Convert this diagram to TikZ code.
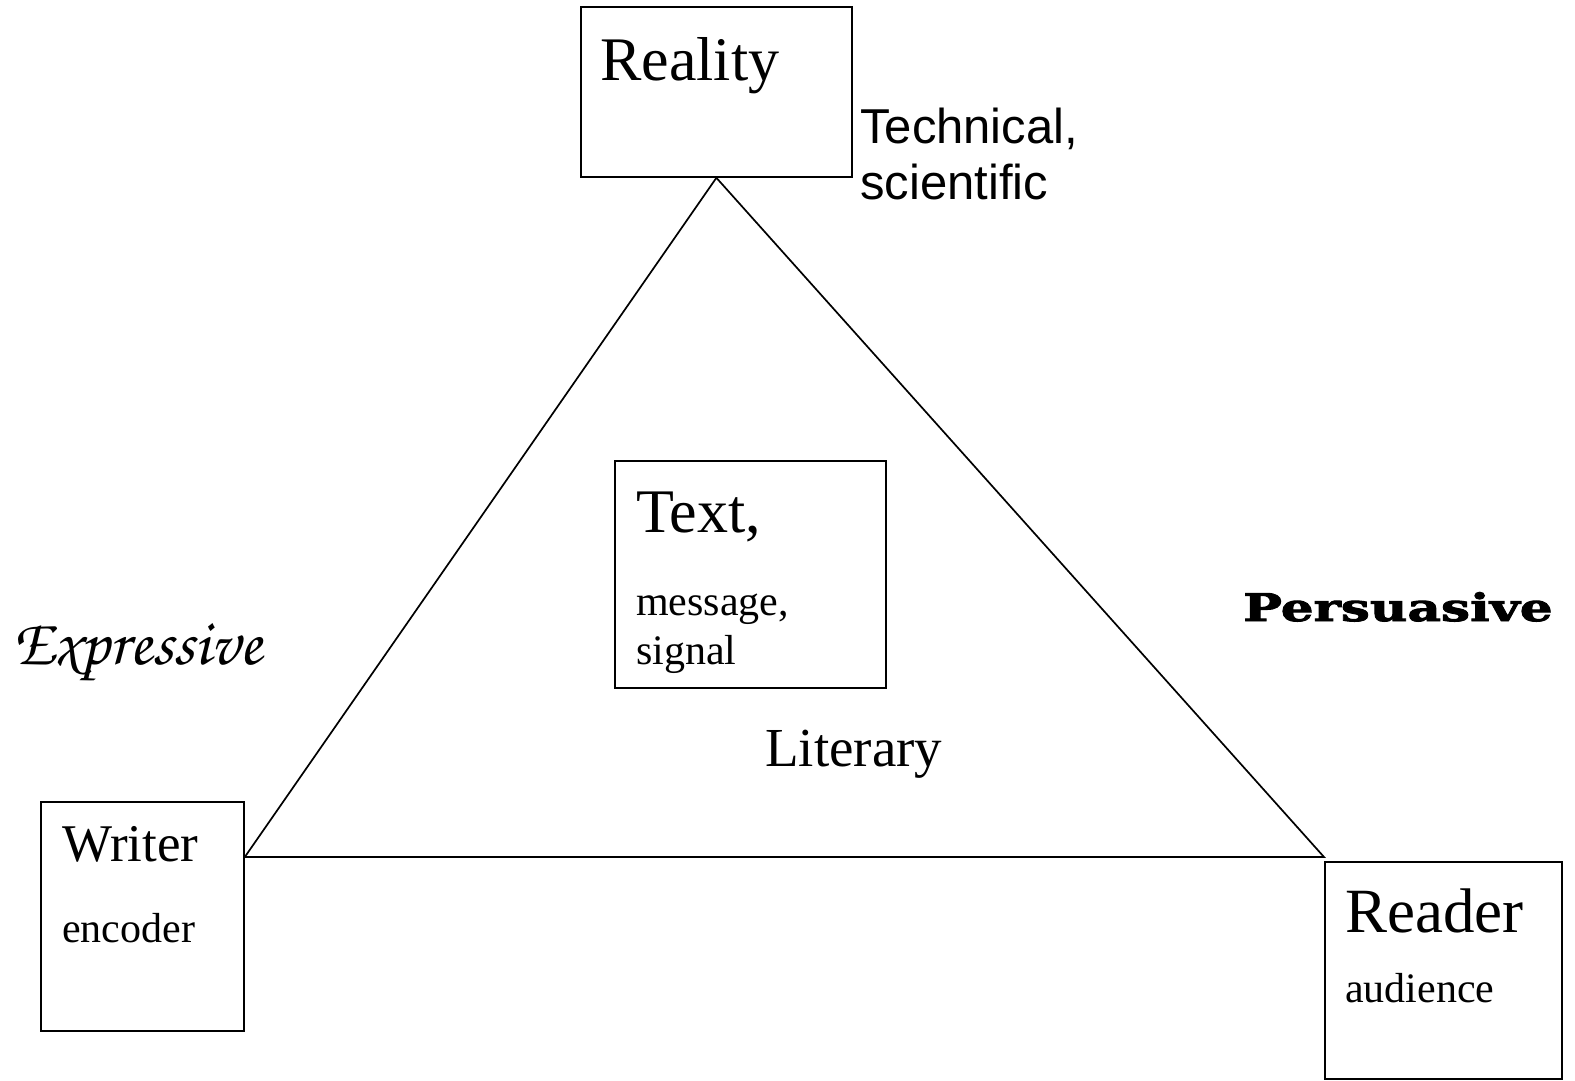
\documentclass[tikz,border=0pt]{standalone}
\usepackage{fontspec}
\usepackage{tikz}
\usetikzlibrary{positioning}
\setmainfont{Liberation Serif}
\newfontfamily\sansfam{Liberation Sans}
\newfontfamily\slabfam[FakeStretch=1.36, BoldFeatures={FakeBold=2.5}]{DejaVu Serif}
\newfontfamily\chorusfam{texgyrechorus-mediumitalic.otf}

\begin{document}
\begin{tikzpicture}[
			x=1pt, y=-1pt,
			box/.style={draw, line width=1.8pt, inner sep=0pt, anchor=north west},
			big/.style={anchor=base west, inner sep=0pt, font=\fontsize{62}{62}\selectfont},
			small/.style={anchor=base west, inner sep=0pt, font=\fontsize{42}{48}\selectfont},
			side/.style={line width=1.7pt}
			]
			\useasboundingbox (0,0) rectangle (1575,1080);
			% Boxes
			\node (reality) [box, minimum width=271pt, minimum height=170pt] at (580,6) {};
			\node (text) [box, minimum width=271pt, minimum height=227pt] at (614,460) {};
			\node (writer) [box, minimum width=203pt, minimum height=229pt] at (40,801) {};
			\node (reader) [box, minimum width=237pt, minimum height=217pt] at (1324,861) {};
			
			% Box labels
			\node (realitylbl) [big] at (600,80) {Reality};
			\node (textlbl) [big] at (636,532) {Text,};
			\node (msglbl) [small] at (636,615) {message,};
			\node (siglbl) [small] at (636,664) {signal};
			\node (writerlbl) [big, font=\fontsize{53}{53}\selectfont] at (62,861) {Writer};
			\node (enclbl) [small] at (62,942) {encoder};
			\node (readerlbl) [big, font=\fontsize{63}{63}\selectfont] at (1345,932) {Reader};
			\node (audlbl) [small] at (1345,1002) {audience};
			
			% Kinds of writing
			\node (technical) [anchor=base west, inner sep=0pt, font=\sansfam\fontsize{49}{56}\selectfont, align=left] at (860,199) {Technical,\\scientific};
			\node (literary) [anchor=base west, inner sep=0pt, font=\fontsize{55}{55}\selectfont] at (765,766) {Literary};
			\node (expressive) [anchor=base west, inner sep=0pt, font=\chorusfam\fontsize{66}{66}\selectfont] at (12,664) {Expressive};
			\node (persuasive) [anchor=base west, inner sep=0pt, font=\slabfam\bfseries\fontsize{38}{38}\selectfont] at (1243,621) {Persuasive};
			
			% Triangle
			\coordinate (rcorner) at ([yshift=4pt]reader.north west);
			\coordinate (wcorner) at (writer.east |- rcorner);
			\draw[side] (reality.south) -- (wcorner) -- (rcorner) -- cycle;
		\end{tikzpicture}
\end{document}
